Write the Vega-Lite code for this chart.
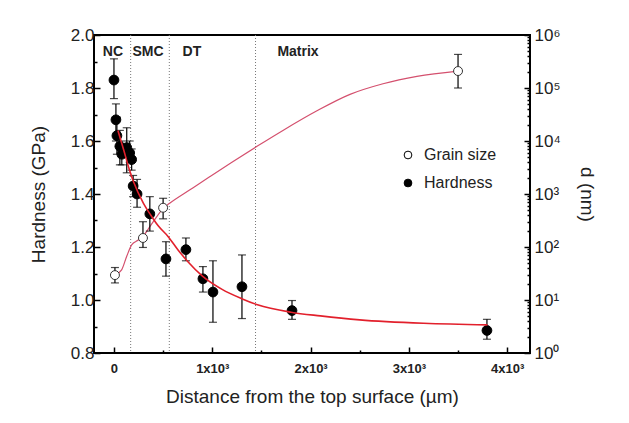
{
  "$schema": "https://vega.github.io/schema/vega-lite/v6.json",
  "width": 436,
  "height": 318,
  "autosize": {"type": "none"},
  "padding": {"left": 94, "top": 35, "right": 99, "bottom": 70},
  "background": "white",
  "config": {
    "view": {"stroke": "black", "strokeWidth": 2},
    "font": "Liberation Sans",
    "axis": {"domain": false, "grid": false, "tickColor": "black", "tickWidth": 1.5, "labelColor": "#222", "titleColor": "#222", "labelFont": "Liberation Sans", "titleFont": "Liberation Sans", "titleFontWeight": "normal"},
    "legend": {"symbolStrokeColor": "black", "symbolStrokeWidth": 1}
  },
  "datasets": {
    "hard": [
      {"x": 0, "h": 1.83, "lo": 1.76, "hi": 1.91, "series": "Hardness"},
      {"x": 20, "h": 1.68, "lo": 1.60, "hi": 1.74, "series": "Hardness"},
      {"x": 30, "h": 1.62, "lo": 1.55, "hi": 1.69, "series": "Hardness"},
      {"x": 60, "h": 1.58, "lo": 1.51, "hi": 1.64, "series": "Hardness"},
      {"x": 80, "h": 1.55, "lo": 1.51, "hi": 1.60, "series": "Hardness"},
      {"x": 130, "h": 1.575, "lo": 1.48, "hi": 1.65, "series": "Hardness"},
      {"x": 160, "h": 1.555, "lo": 1.52, "hi": 1.60, "series": "Hardness"},
      {"x": 180, "h": 1.53, "lo": 1.49, "hi": 1.57, "series": "Hardness"},
      {"x": 195, "h": 1.43, "lo": 1.39, "hi": 1.47, "series": "Hardness"},
      {"x": 235, "h": 1.40, "lo": 1.35, "hi": 1.455, "series": "Hardness"},
      {"x": 365, "h": 1.325, "lo": 1.26, "hi": 1.39, "series": "Hardness"},
      {"x": 529, "h": 1.155, "lo": 1.09, "hi": 1.22, "series": "Hardness"},
      {"x": 732, "h": 1.19, "lo": 1.148, "hi": 1.234, "series": "Hardness"},
      {"x": 905, "h": 1.08, "lo": 1.03, "hi": 1.126, "series": "Hardness"},
      {"x": 1007, "h": 1.03, "lo": 0.916, "hi": 1.148, "series": "Hardness"},
      {"x": 1302, "h": 1.05, "lo": 0.93, "hi": 1.17, "series": "Hardness"},
      {"x": 1811, "h": 0.96, "lo": 0.927, "hi": 0.998, "series": "Hardness"},
      {"x": 3794, "h": 0.885, "lo": 0.852, "hi": 0.927, "series": "Hardness"}
    ],
    "hardfit": [
      {"x": 40, "h": 1.64}, {"x": 100, "h": 1.565}, {"x": 150, "h": 1.5}, {"x": 200, "h": 1.445},
      {"x": 300, "h": 1.365}, {"x": 375, "h": 1.32}, {"x": 450, "h": 1.28}, {"x": 550, "h": 1.24},
      {"x": 650, "h": 1.19}, {"x": 750, "h": 1.145}, {"x": 900, "h": 1.09}, {"x": 1100, "h": 1.04},
      {"x": 1300, "h": 1.005}, {"x": 1460, "h": 0.982}, {"x": 1800, "h": 0.954}, {"x": 2100, "h": 0.94},
      {"x": 2500, "h": 0.925}, {"x": 3150, "h": 0.912}, {"x": 3800, "h": 0.906}
    ],
    "grain": [
      {"x": 10, "d": 29.5, "lo": 21, "hi": 41, "series": "Grain size"},
      {"x": 295, "d": 148, "lo": 98, "hi": 300, "series": "Grain size"},
      {"x": 500, "d": 550, "lo": 340, "hi": 830, "series": "Grain size"},
      {"x": 3500, "d": 209000, "lo": 100000, "hi": 430000, "series": "Grain size"}
    ],
    "grainfit": [
      {"x": 10, "d": 29.5}, {"x": 78, "d": 37}, {"x": 129, "d": 66}, {"x": 180, "d": 110},
      {"x": 247, "d": 135}, {"x": 298, "d": 162}, {"x": 400, "d": 302}, {"x": 502, "d": 537},
      {"x": 570, "d": 676}, {"x": 773, "d": 1202}, {"x": 977, "d": 2138}, {"x": 1200, "d": 3981},
      {"x": 1455, "d": 7943}, {"x": 1719, "d": 15849}, {"x": 2065, "d": 37154}, {"x": 2401, "d": 75858},
      {"x": 2737, "d": 120226}, {"x": 3082, "d": 165959}, {"x": 3500, "d": 208930}
    ],
    "zones": [{"x": 170}, {"x": 563}, {"x": 1440}],
    "zonelabels": [
      {"x": -10, "h": 1.936, "label": "NC"},
      {"x": 346, "h": 1.936, "label": "SMC"},
      {"x": 793, "h": 1.936, "label": "DT"},
      {"x": 1872, "h": 1.936, "label": "Matrix"}
    ]
  },
  "encoding": {
    "x": {
      "field": "x", "type": "quantitative",
      "scale": {"domain": [-203, 4232], "nice": false, "zero": false},
      "axis": {
        "values": [0, 500, 1000, 1500, 2000, 2500, 3000, 3500, 4000],
        "labelExpr": "datum.value == 0 ? '0' : (datum.value % 1000 == 0 ? format(datum.value/1000, 'd') + 'x10³' : '')",
        "labelFontWeight": "bold", "labelFontSize": 13, "labelPadding": 15,
        "tickSize": {"condition": {"test": "datum.value % 1000 == 0", "value": -6}, "value": -3},
        "title": "Distance from the top surface (µm)", "titleFontSize": 19, "titlePadding": 12
      }
    }
  },
  "layer": [
    {
      "data": {"name": "zones"},
      "mark": {"type": "rule", "color": "#777", "strokeDash": [1, 2], "strokeWidth": 1},
      "encoding": {}
    },
    {
      "encoding": {
        "y": {
          "field": "d", "type": "quantitative",
          "scale": {"type": "log", "domain": [1, 1000000], "nice": false},
          "axis": {
            "orient": "right",
            "values": [1,2,3,4,5,6,7,8,9,10,20,30,40,50,60,70,80,90,100,200,300,400,500,600,700,800,900,1000,2000,3000,4000,5000,6000,7000,8000,9000,10000,20000,30000,40000,50000,60000,70000,80000,90000,100000,200000,300000,400000,500000,600000,700000,800000,900000,1000000],
            "labelExpr": "abs(log(datum.value)/LN10 - round(log(datum.value)/LN10)) < 0.001 ? '10' + ['⁰','¹','²','³','⁴','⁵','⁶'][round(log(datum.value)/LN10)] : ''",
            "tickSize": {"condition": {"test": "abs(log(datum.value)/LN10 - round(log(datum.value)/LN10)) < 0.001", "value": -6}, "value": -3},
            "labelFontSize": 17, "labelPadding": 10,
            "title": "d (nm)", "titleFontSize": 19, "titlePadding": 16
          }
        }
      },
      "layer": [
        {
          "data": {"name": "grainfit"},
          "mark": {"type": "line", "color": "#d4506e", "strokeWidth": 1.2, "interpolate": "monotone"}
        },
        {
          "data": {"name": "grain"},
          "mark": {"type": "errorbar", "ticks": true, "size": 8, "thickness": 1.2, "color": "black"},
          "encoding": {"y": {"field": "lo", "type": "quantitative"}, "y2": {"field": "hi"}}
        },
        {
          "data": {"name": "grain"},
          "mark": {"type": "point", "filled": true, "stroke": "#333", "strokeWidth": 1, "size": 80, "opacity": 1},
          "encoding": {
            "fill": {"field": "series", "type": "nominal", "scale": {"domain": ["Grain size", "Hardness"], "range": ["white", "black"]},
              "legend": {"orient": "none", "legendX": 306, "legendY": 112, "title": null, "labelFontSize": 16, "symbolSize": 60, "rowPadding": 12, "labelOffset": 8, "labelColor": "#222"}}
          }
        }
      ]
    },
    {
      "encoding": {
        "y": {
          "field": "h", "type": "quantitative",
          "scale": {"domain": [0.8, 2.0], "nice": false, "zero": false},
          "axis": {
            "orient": "left",
            "values": [0.8, 0.9, 1.0, 1.1, 1.2, 1.3, 1.4, 1.5, 1.6, 1.7, 1.8, 1.9, 2.0],
            "labelExpr": "round(datum.value*10) % 2 == 0 ? format(datum.value, '.1f') : ''",
            "tickSize": {"condition": {"test": "round(datum.value*10) % 2 == 0", "value": -6}, "value": -3},
            "labelFontSize": 17, "labelPadding": 6,
            "title": "Hardness (GPa)", "titleFontSize": 19, "titlePadding": 22
          }
        }
      },
      "layer": [
        {
          "data": {"name": "hard"},
          "mark": {"type": "errorbar", "ticks": true, "size": 8, "thickness": 1.2, "color": "black"},
          "encoding": {"y": {"field": "lo", "type": "quantitative"}, "y2": {"field": "hi"}}
        },
        {
          "data": {"name": "hard"},
          "mark": {"type": "point", "filled": true, "stroke": "black", "strokeWidth": 1, "size": 95, "opacity": 1},
          "encoding": {"fill": {"field": "series", "type": "nominal"}}
        },
        {
          "data": {"name": "hardfit"},
          "mark": {"type": "line", "color": "#e2202c", "strokeWidth": 1.6, "interpolate": "monotone"}
        },
        {
          "data": {"name": "zonelabels"},
          "mark": {"type": "text", "font": "Liberation Sans", "fontWeight": "bold", "fontSize": 14, "color": "#222", "align": "center", "baseline": "middle"},
          "encoding": {"text": {"field": "label"}}
        }
      ]
    }
  ],
  "resolve": {"scale": {"y": "independent"}, "axis": {"y": "independent"}}
}
